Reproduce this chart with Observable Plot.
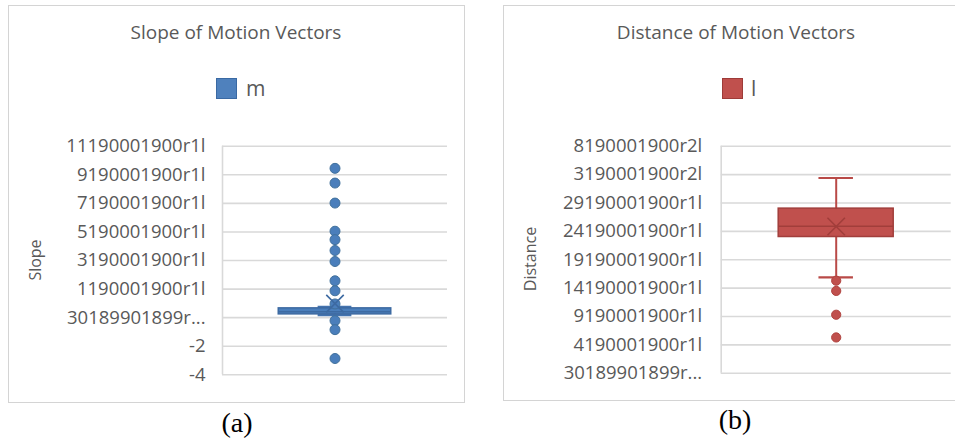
<!DOCTYPE html>
<html>
<head>
<meta charset="utf-8">
<script src="https://cdn.jsdelivr.net/npm/d3@7"></script>
<script src="https://cdn.jsdelivr.net/npm/@observablehq/plot@0.6"></script>
<style>
  html, body { margin: 0; padding: 0; background: #fff; }
  #wrap { position: relative; width: 955px; height: 446px; overflow: hidden; background: #fff; font-family: "Open Sans", sans-serif; }
  .panel { position: absolute; border: 1px solid #d4d4d4; box-sizing: border-box; }
  .title { position: absolute; font-size: 19px; line-height: 19px; color: #595959; text-align: center; white-space: nowrap; }
  .sw { position: absolute; width: 21px; height: 21px; box-sizing: border-box; }
  .lg { position: absolute; font-size: 21px; line-height: 21px; color: #595959; }
  .ytitle { position: absolute; font-size: 16px; line-height: 16px; color: #595959; transform: translate(-50%, -50%) rotate(-90deg); white-space: nowrap; }
  .cap { position: absolute; font-family: "Liberation Serif", "Times New Roman", serif; font-size: 28px; line-height: 28px; color: #000; transform: translateX(-50%); }
  .plot { position: absolute; }
</style>
</head>
<body>
<div id="wrap">
  <div class="panel" style="left:8px;top:5px;width:457px;height:398px;"></div>
  <div class="panel" style="left:503px;top:5px;width:470px;height:396px;"></div>

  <div class="title" style="left:36px;width:400px;top:23px;">Slope of Motion Vectors</div>
  <div class="title" style="left:536px;width:400px;top:23px;">Distance of Motion Vectors</div>

  <div class="sw" style="left:216px;top:78px;background:#4F81BD;border:1.5px solid #3A69A3;"></div>
  <div class="lg" style="left:246px;top:78px;">m</div>
  <div class="sw" style="left:722px;top:78px;background:#C0504D;border:1.5px solid #9E3B38;"></div>
  <div class="lg" style="left:751px;top:78px;">l</div>

  <div class="ytitle" style="left:35px;top:260px;">Slope</div>
  <div class="ytitle" style="left:530px;top:259px;">Distance</div>

  <div class="cap" style="left:237px;top:409px;">(a)</div>
  <div class="cap" style="left:735px;top:406px;">(b)</div>

  <div id="p1" class="plot" style="left:8px;top:120px;"></div>
  <div id="p2" class="plot" style="left:503px;top:120px;"></div>
</div>
<script>
// ---- Slope of Motion Vectors (m) ----
const slopeTicks = [-4, -2, 0, 2, 4, 6, 8, 10, 12];
const slopeTickLabels = ["-4", "-2", "30189901899r...", "1190001900r1l", "3190001900r1l", "5190001900r1l", "7190001900r1l", "9190001900r1l", "11190001900r1l"];
const slopeWhiskers = [0.17, 0.75];          // lower, upper whisker
const slopeQuartiles = [0.23, 0.42, 0.65];   // Q1, median, Q3
const slopeMean = [0.98];
const slopeOutliers = [10.45, 9.42, 8.02, 6.05, 5.46, 4.70, 3.93, 2.58, 1.88, 0.96, -0.21, -0.84, -2.86];

// ---- Distance of Motion Vectors (l) ----
const distTicks = [0, 5, 10, 15, 20, 25, 30, 35, 40];
const distTickLabels = ["30189901899r...", "4190001900r1l", "9190001900r1l", "14190001900r1l", "19190001900r1l", "24190001900r1l", "29190001900r1l", "3190001900r2l", "8190001900r2l"];
const distWhiskers = [16.9, 34.4];
const distQuartiles = [24.0, 25.9, 29.0];
const distMean = [25.85];
const distOutliers = [16.3, 14.5, 10.3, 6.3];

function boxPanel(cfg) {
  const [lo, hi] = cfg.whiskers;
  const [q1, med, q3] = cfg.quartiles;
  const dom = [cfg.ticks[0], cfg.ticks[cfg.ticks.length - 1]];
  return Plot.plot({
    width: cfg.width,
    height: cfg.height,
    marginLeft: cfg.ml,
    marginRight: cfg.mr,
    marginTop: cfg.mt,
    marginBottom: cfg.mb,
    style: { fontFamily: "Open Sans", color: "#595959", background: "transparent", overflow: "visible" },
    x: { domain: [0, 1], axis: null },
    y: { domain: dom, axis: null },
    marks: [
      Plot.ruleY(cfg.ticks, { stroke: "#d9d9d9", strokeWidth: 1.6 }),
      Plot.ruleX([0], { y1: dom[0], y2: dom[1], stroke: "#d9d9d9", strokeWidth: 1.6 }),
      Plot.axisY(cfg.ticks, {
        tickSize: 0,
        tickPadding: cfg.pad,
        fontSize: 18.5,
        label: null,
        tickFormat: d => cfg.labels[cfg.ticks.indexOf(d)]
      }),
      // whisker line
      Plot.ruleX([0.5], { y1: lo, y2: hi, stroke: cfg.line, strokeWidth: 2 }),
      // whisker caps
      Plot.ruleY(cfg.whiskers, { x1: 0.425, x2: 0.575, stroke: cfg.line, strokeWidth: 2.2 }),
      // box
      Plot.rect([0], { x1: 0.25, x2: 0.75, y1: q1, y2: q3, fill: cfg.fill, stroke: cfg.dark, strokeWidth: 1.5 }),
      // median
      Plot.ruleY([med], { x1: 0.25, x2: 0.75, stroke: cfg.dark, strokeWidth: 1.5 }),
      // outliers
      Plot.dot(cfg.outliers, { x: () => 0.5, y: d => d, r: cfg.r, fill: cfg.fill, stroke: cfg.dot, strokeWidth: 1 }),
      // mean
      Plot.dot(cfg.mean, { x: () => 0.5, y: d => d, symbol: "times", r: 8, stroke: cfg.dark, strokeWidth: 1.6 })
    ]
  });
}

document.getElementById("p1").appendChild(boxPanel({
  width: 456, height: 270, ml: 214, mr: 17, mt: 25.7, mb: 15.7, pad: 17,
  ticks: slopeTicks, labels: slopeTickLabels,
  whiskers: slopeWhiskers, quartiles: slopeQuartiles, mean: slopeMean, outliers: slopeOutliers,
  fill: "#4A7EBB", dark: "#3D6AA2", line: "#4473AE", dot: "#41719C", r: 5
}));

document.getElementById("p2").appendChild(boxPanel({
  width: 452, height: 270, ml: 217.7, mr: 4.3, mt: 25.7, mb: 17.3, pad: 19,
  ticks: distTicks, labels: distTickLabels,
  whiskers: distWhiskers, quartiles: distQuartiles, mean: distMean, outliers: distOutliers,
  fill: "#C0504D", dark: "#A13E3B", line: "#B94A47", dot: "#B0433F", r: 4.6
}));
</script>
</body>
</html>
